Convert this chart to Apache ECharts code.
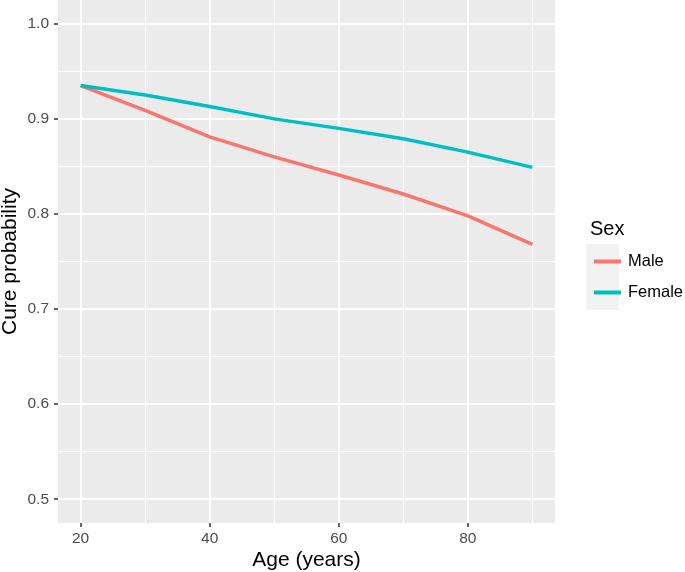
<!DOCTYPE html>
<html>
<head>
<meta charset="utf-8">
<script src="https://cdn.jsdelivr.net/npm/echarts@6/dist/echarts.min.js"></script>
<style>
html,body{margin:0;padding:0;background:#fff;}
#main{width:685px;height:572px;}
</style>
</head>
<body>
<div id="main"></div>
<script>
// data
var ages = [20, 30, 40, 50, 60, 70, 80, 90];
var male = [0.935, 0.909, 0.881, 0.860, 0.841, 0.821, 0.798, 0.768];
var female = [0.935, 0.925, 0.913, 0.900, 0.890, 0.879, 0.865, 0.849];
var xTicks = [20, 40, 60, 80];
var xMinor = [30, 50, 70, 90];
var yTicks = [0.5, 0.6, 0.7, 0.8, 0.9, 1.0];
var yMinor = [0.55, 0.65, 0.75, 0.85, 0.95];

var chart = echarts.init(document.getElementById('main'));
var font = 'Liberation Sans, Arial, sans-serif';

function pairs(xs, ys){
	var out = [];
	for(var i=0;i<xs.length;i++){ out.push([xs[i], ys[i]]); }
	return out;
}
function gridLines(){
	var d = [];
	xTicks.forEach(function(v){ d.push({xAxis:v, lineStyle:{width:2}}); });
	xMinor.forEach(function(v){ d.push({xAxis:v, lineStyle:{width:1}}); });
	yTicks.forEach(function(v){ d.push({yAxis:v, lineStyle:{width:2}}); });
	yMinor.forEach(function(v){ d.push({yAxis:v, lineStyle:{width:1}}); });
	return d;
}

var option = {
	animation: false,
	textStyle: {fontFamily: font},
	title: {
		text: 'Sex', left: 585, top: 214,
		textStyle: {fontFamily: font, fontSize: 20, fontWeight: 'normal', color: '#000'}
	},
	graphic: [{
		type: 'rect', left: 586, top: 244, z: 0,
		shape: {width: 33, height: 66},
		style: {fill: '#F2F2F2'}
	}],
	legend: {
		orient: 'vertical', left: 589, top: 248,
		icon: 'rect', itemWidth: 27, itemHeight: 4, itemGap: 14,
		data: ['Male', 'Female'],
		textStyle: {fontFamily: font, fontSize: 16.5, color: '#000', padding: [0,0,0,2]}
	},
	grid: {
		left: 58, right: 130, top: 0, bottom: 49,
		outerBoundsMode: 'none', containLabel: false,
		show: true, backgroundColor: '#EBEBEB', borderWidth: 0
	},
	xAxis: {
		type: 'value', min: 16.5, max: 93.5,
		name: 'Age (years)', nameLocation: 'middle', nameGap: 27, nameMoveOverlap: false,
		nameTextStyle: {fontFamily: font, fontSize: 21, color: '#000'},
		axisLine: {show: false},
		splitLine: {show: false},
		axisTick: {show: true, length: 4, customValues: xTicks, lineStyle: {color: '#333', width: 1.5}},
		axisLabel: {customValues: xTicks, margin: 8, fontFamily: font, fontSize: 15.5, color: '#4D4D4D'}
	},
	yAxis: {
		type: 'value', min: 0.475, max: 1.025,
		name: 'Cure probability', nameLocation: 'middle', nameGap: 37, nameMoveOverlap: false,
		nameTextStyle: {fontFamily: font, fontSize: 21, color: '#000'},
		axisLine: {show: false},
		splitLine: {show: false},
		axisTick: {show: true, length: 4, customValues: yTicks, lineStyle: {color: '#333', width: 1.5}},
		axisLabel: {
			customValues: yTicks, margin: 9, fontFamily: font, fontSize: 15.5, color: '#4D4D4D',
			formatter: function(v){ return v.toFixed(1); }
		}
	},
	series: [{
		name: 'grid', type: 'line', data: [], silent: true, z: 1,
		markLine: {
			silent: true, symbol: 'none', z: 1, label: {show: false},
			lineStyle: {color: '#fff', type: 'solid'},
			data: gridLines()
		}
	}, {
		name: 'Male', type: 'line', data: pairs(ages, male), z: 3,
		showSymbol: false, smooth: false,
		lineStyle: {color: '#F8766D', width: 3.5},
		itemStyle: {color: '#F8766D'}
	}, {
		name: 'Female', type: 'line', data: pairs(ages, female), z: 3,
		showSymbol: false, smooth: false,
		lineStyle: {color: '#00BFC4', width: 3.5},
		itemStyle: {color: '#00BFC4'}
	}]
};
chart.setOption(option);
</script>
</body>
</html>
